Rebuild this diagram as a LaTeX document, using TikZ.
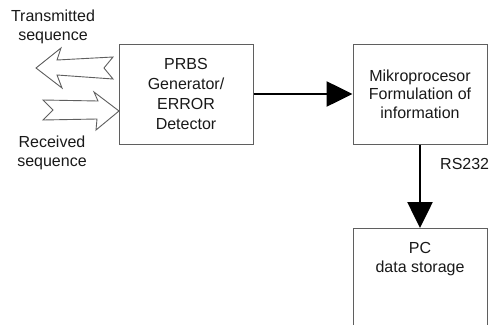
\documentclass[tikz,border=0pt]{standalone}
\usepackage{fontspec}
\setmainfont{Liberation Sans}
\usetikzlibrary{arrows.meta}
\definecolor{edge}{RGB}{95,95,95}
\definecolor{ink}{RGB}{25,25,25}
\begin{document}
\begin{tikzpicture}[x=1pt,y=-1pt,
  box/.style={draw=edge, line width=1pt, minimum width=134pt, minimum height=100pt, inner sep=0pt, align=center, font=\fontsize{16}{20}\selectfont, text=ink},
  lbl/.style={align=center, font=\fontsize{16}{19.5}\selectfont, text=ink, inner sep=0pt},
  flow/.style={line width=2.6pt, -{Triangle[length=26pt,width=25pt]}},
  blockarrow/.style={draw=edge, line width=0.9pt, fill=white, line join=miter}]
\useasboundingbox (0,0) rectangle (489,324);
\clip (0,0) rectangle (489,324);
% boxes
\node[box] (gen) at (186,94) {PRBS\\Generator/\\ERROR\\Detector};
\node[box, font=\fontsize{16}{18.5}\selectfont] (mp) at (420,94) {Mikroprocesor\\Formulation of\\information};
\node[box, minimum height=130pt, anchor=north] (pc) at (420,228) {};
\node[lbl, font=\fontsize{16}{18.5}\selectfont] (pctext) at (420,259) {PC\\data storage};
% connectors
\draw[flow] (gen.east) -- (mp.west);
\draw[flow] (mp.south) -- (pc.north);
\node[lbl, anchor=west] (rs) at (440,164) {RS232};
% block arrows
\draw[blockarrow] (36,68) -- (61,48) -- (57,60) -- (113,57) -- (104,68) -- (113,79) -- (57,75) -- (62,88) -- cycle;
\draw[blockarrow] (43,100) -- (98,101) -- (94,92) -- (119,111) -- (96,130) -- (97,119) -- (43,120) -- (53,110) -- cycle;
% side labels
\node[lbl] (tx) at (53,27) {Transmitted\\sequence};
\node[lbl] (rx) at (52,153) {Received\\sequence};
\end{tikzpicture}
\end{document}
